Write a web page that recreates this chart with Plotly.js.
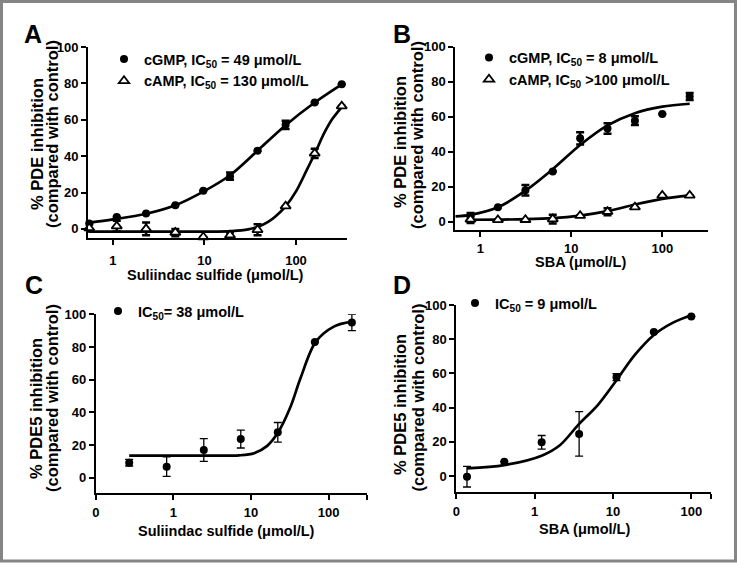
<!DOCTYPE html>
<html><head><meta charset="utf-8">
<script src="https://cdn.plot.ly/plotly-3.0.1.min.js"></script>
<style>html,body{margin:0;padding:0;background:#fff}</style>
</head><body><div id="chart" style="width:737px;height:563px"></div>
<script>
// ---------- data ----------
// Panel A: Sulindac sulfide
const aX        = [0.55, 1.1, 2.3, 4.8, 9.7, 19, 38, 77, 160, 316];
const aCgmpY    = [3, 6.5, 8.5, 13, 21, 29, 43, 57.2, 69.5, 79.5];
const aCgmpErr  = [null, null, null, null, null, 2, null, 2.3, null, null];
const aCampY    = [0.5, 1.5, 0, -2, -4.5, -3.5, -0.5, 12.5, 41.5, 67.5];
const aCampErr  = [2, 3, 3.5, 2, null, 1.5, 3, null, 2.5, null];
const aCgmpFitX = [0.55, 1, 2.3, 4.8, 9.7, 19, 38, 77, 160, 316];
const aCgmpFitY = [3.4, 5.2, 8.3, 13, 20.5, 29.5, 43, 57, 69.5, 79.5];
const aCampFitX = [0.55, 10, 20, 30, 40, 50, 60, 77, 100, 130, 161, 205, 250, 316];
const aCampFitY = [-1.5, -1.5, -1.2, -0.3, 1.5, 4, 7, 12.4, 20.6, 32, 41.6, 53, 60.5, 67];

// Panel B: SBA
const bX        = [0.78, 1.56, 3.13, 6.25, 12.5, 25, 50, 100, 200];
const bCgmpY    = [3, 8.2, 18, 28.6, 47.6, 53.3, 57.7, 61.5, 71.5];
const bCgmpErr  = [2, null, 3, null, 3.5, 3, 2.5, null, 2];
const bCampY    = [1.3, 1, 1.1, 1.5, 3.4, 5.7, 8.3, 15, 15];
const bCampErr  = [2, null, null, 2.5, null, 2, null, null, null];
const bCgmpFitX = [0.53, 0.78, 1.56, 3.13, 6.25, 12.5, 25, 50, 100, 200];
const bCgmpFitY = [3, 3.9, 8.2, 17.7, 30, 43.8, 55, 62, 65.7, 67.4];
const bCampFitX = [0.78, 1.56, 3.13, 6.25, 12.5, 25, 50, 100, 200];
const bCampFitY = [1.1, 1.2, 1.4, 2, 3.5, 6, 9.8, 13, 15];

// Panel C: PDE5, Sulindac sulfide
const cX     = [0.27, 0.82, 2.47, 7.4, 22.2, 66.7, 200];
const cY     = [9.2, 6.8, 17, 23.7, 27.8, 83, 95];
const cErr   = [2, 6, 7, 5.5, 6, null, 5];
const cFitX  = [0.27, 4, 7, 11, 16.2, 22.2, 32.4, 43.6, 68, 117, 200];
const cFitY  = [13.5, 13.5, 13.7, 15, 19.5, 27.5, 43.5, 61, 83, 92.5, 95.5];

// Panel D: PDE5, SBA
const dX     = [0.137, 0.41, 1.23, 3.7, 11.1, 33.3, 100];
const dY     = [-0.4, 8.4, 19.7, 24.6, 57.8, 84.2, 93.3];
const dErr   = [6, null, 4, 13, 2, null, null];
const dFitX  = [0.137, 0.41, 1.23, 2.1, 3.7, 6.4, 11.1, 19, 33.3, 58.5, 100];
const dFitY  = [4.5, 6.4, 11.9, 18, 30.5, 41.5, 56, 70.8, 82.5, 89.7, 94];

// tick labels
const logTicksAB = [1, 10, 100];
const logTextAB  = ['1', '10', '100'];
const logTicksC  = [0.1, 1, 10, 100, 316.2];
const logTicksD  = [0.1, 1, 10, 100, 176.6];
const logTextCD  = ['0', '1', '10', '100', ' '];
const yTicks     = [0, 20, 40, 60, 80, 100];

// legend labels
const legA = ['cGMP, IC<sub>50</sub> = 49 μmol/L', 'cAMP, IC<sub>50</sub> = 130 μmol/L'];
const legB = ['cGMP, IC<sub>50</sub> = 8 μmol/L', 'cAMP, IC<sub>50</sub> &gt;100 μmol/L'];
const legC = ['IC<sub>50</sub>= 38 μmol/L'];
const legD = ['IC<sub>50</sub> = 9 μmol/L'];

// ---------- drawing ----------
const W = 737, H = 563;
const px = v => v / W, py = v => 1 - v / H;
const FONT = 'Liberation Sans, Arial, sans-serif';

function fit(x, y, xa, ya) {
  return {x: x, y: y, xaxis: xa, yaxis: ya, type: 'scatter', mode: 'lines',
    line: {color: '#000', width: 2.7, shape: 'spline', smoothing: 0.9},
    showlegend: false, hoverinfo: 'skip', cliponaxis: false};
}
function pts(x, y, err, xa, ya, sym, name, leg, eth) {
  const open = sym === 'triangle-up';
  return {x: x, y: y, xaxis: xa, yaxis: ya, type: 'scatter', mode: 'markers', name: name,
    legend: leg, cliponaxis: false,
    marker: open ? {symbol: 'triangle-up', size: 9, color: '#fff', line: {color: '#000', width: 1.8}}
                 : {symbol: 'circle', size: 8, color: '#000'},
    error_y: {type: 'data', array: err, visible: true, color: '#000', thickness: eth, width: 4}};
}

const data = [
  fit(aCgmpFitX, aCgmpFitY, 'x', 'y'),
  fit(aCampFitX, aCampFitY, 'x', 'y'),
  pts(aX, aCgmpY, aCgmpErr, 'x', 'y', 'circle', legA[0], 'legend', 2.5),
  pts(aX, aCampY, aCampErr, 'x', 'y', 'triangle-up', legA[1], 'legend', 2.5),
  fit(bCgmpFitX, bCgmpFitY, 'x2', 'y2'),
  fit(bCampFitX, bCampFitY, 'x2', 'y2'),
  pts(bX, bCgmpY, bCgmpErr, 'x2', 'y2', 'circle', legB[0], 'legend2', 2.5),
  pts(bX, bCampY, bCampErr, 'x2', 'y2', 'triangle-up', legB[1], 'legend2', 2.5),
  fit(cFitX, cFitY, 'x3', 'y3'),
  pts(cX, cY, cErr, 'x3', 'y3', 'circle', legC[0], 'legend3', 1.3),
  fit(dFitX, dFitY, 'x4', 'y4'),
  pts(dX, dY, dErr, 'x4', 'y4', 'circle', legD[0], 'legend4', 1.3)
];

const tickfont = {family: FONT, size: 13, weight: 'bold', color: '#000'};
function ax(extra) {
  return Object.assign({showline: true, linecolor: '#000', linewidth: 2, ticks: 'outside',
    ticklen: 5, tickwidth: 2, tickcolor: '#000', showgrid: false, zeroline: false,
    tickfont: tickfont, fixedrange: true}, extra);
}
const legFont = {family: FONT, size: 14.5, weight: 'bold', color: '#000'};
function legend(L, T) {
  return {x: px(L), y: py(T), xanchor: 'left', yanchor: 'top', xref: 'paper', yref: 'paper',
    bgcolor: 'rgba(0,0,0,0)', borderwidth: 0, font: legFont, tracegroupgap: 0, itemwidth: 30};
}
function ann(text, x, y, size, angle) {
  return {text: text, x: px(x), y: py(y), xref: 'paper', yref: 'paper', showarrow: false,
    xanchor: 'center', yanchor: 'middle', textangle: angle || 0,
    font: {family: FONT, size: size, weight: 'bold', color: '#000'}};
}

const layout = {
  width: W, height: H, margin: {l: 0, r: 0, t: 0, b: 0},
  paper_bgcolor: '#fff', plot_bgcolor: 'rgba(0,0,0,0)', showlegend: true,
  xaxis:  ax({type: 'log', range: [-0.273, 2.557], tickvals: logTicksAB, ticktext: logTextAB, domain: [0.1194, 0.4708], anchor: 'y', ticklabelstandoff: 4}),
  yaxis:  ax({range: [-5, 100], tickvals: yTicks, domain: [0.5773, 0.9165], anchor: 'x'}),
  xaxis2: ax({type: 'log', range: [-0.275, 2.502], tickvals: logTicksAB, ticktext: logTextAB, domain: [0.6178, 0.9606], anchor: 'y2', ticklabelstandoff: 0}),
  yaxis2: ax({range: [-4.75, 100], tickvals: yTicks, domain: [0.5915, 0.9171], anchor: 'x2'}),
  xaxis3: ax({type: 'log', range: [-1, 2.5001], tickvals: logTicksC, ticktext: logTextCD, domain: [0.1299, 0.4984], anchor: 'y3', ticklabelstandoff: 1}),
  yaxis3: ax({range: [-9.5, 100], tickvals: yTicks, domain: [0.1238, 0.4417], anchor: 'x3'}),
  xaxis4: ax({type: 'log', range: [-1, 2.2475], tickvals: logTicksD, ticktext: logTextCD, domain: [0.6191, 0.9643], anchor: 'y4', ticklabelstandoff: 1}),
  yaxis4: ax({range: [-9.5, 100], tickvals: yTicks, domain: [0.1256, 0.4583], anchor: 'x4'}),
  legend:  legend(104, 43),
  legend2: legend(469, 41.5),
  legend3: legend(98, 295),
  legend4: legend(455, 287),
  annotations: [
    ann('A', 32.5, 34, 25), ann('B', 402, 34, 25), ann('C', 33.5, 285, 25), ann('D', 401.5, 285, 25),
    ann('% PDE inhibition', 37, 144, 16.5, -90), ann('(compared with control)', 52, 134, 16.5, -90),
    ann('% PDE inhibition', 400, 142, 16.5, -90), ann('(compared with control)', 417, 135, 16.5, -90),
    ann('% PDE5 inhibition', 36, 409, 16.5, -90), ann('(compared with control)', 52, 398, 16.5, -90),
    ann('% PDE5 inhibition', 400, 405, 16.5, -90), ann('(compared with control)', 417, 397.5, 16.5, -90),
    ann('Suliindac sulfide (μmol/L)', 215.5, 275, 14.5), ann('SBA (μmol/L)', 580, 262, 14.5),
    ann('Suliindac sulfide (μmol/L)', 226, 531, 14.5), ann('SBA (μmol/L)', 584, 529, 14.5)
  ],
  shapes: [{type: 'rect', xref: 'paper', yref: 'paper', x0: px(1.5), x1: px(735.5), y0: py(561), y1: py(1.5),
    line: {color: '#858585', width: 3}, fillcolor: 'rgba(0,0,0,0)'}]
};

Plotly.newPlot('chart', data, layout, {staticPlot: true, displayModeBar: false});
</script></body></html>
